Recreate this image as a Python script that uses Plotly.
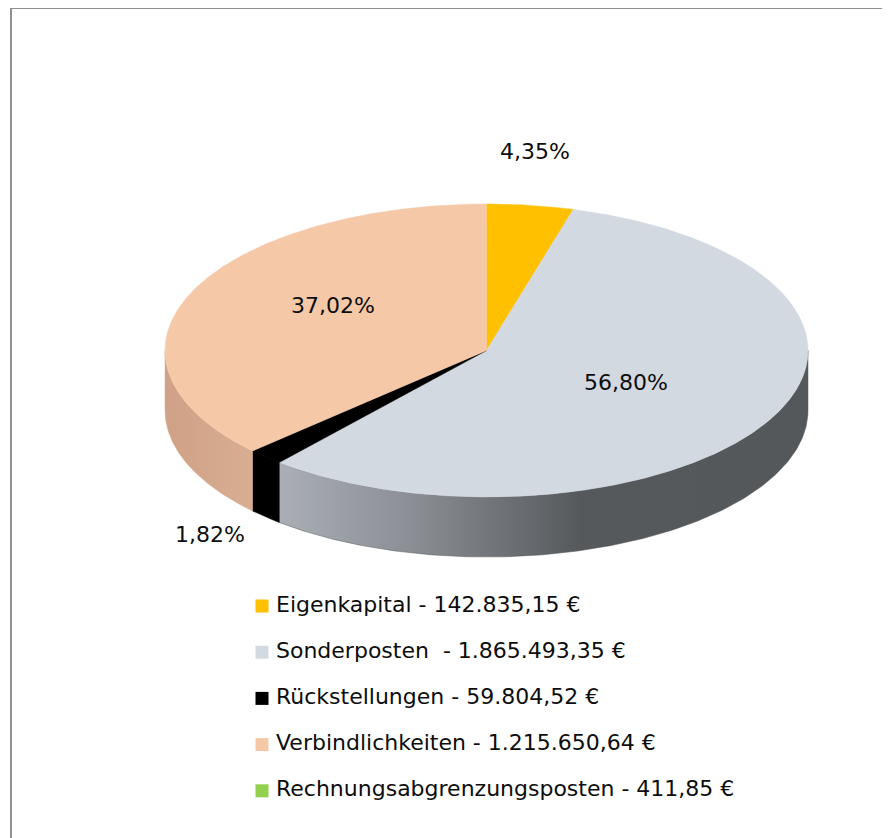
import numpy as np
import plotly.graph_objects as go

# ---- data ----
categories = ["Eigenkapital", "Sonderposten", "Rückstellungen",
              "Verbindlichkeiten", "Rechnungsabgrenzungsposten"]
amounts = [142835.15, 1865493.35, 59804.52, 1215650.64, 411.85]
amount_labels = ["142.835,15 €", "1.865.493,35 €", "59.804,52 €",
                 "1.215.650,64 €", "411,85 €"]
legend_sep = [" - ", "  - ", " - ", " - ", " - "]

# ---- styles ----
top_colors = ["#ffc000", "#d3d9e1", "#000000", "#f5c9a8", "#92d050"]
edge_widths = [0.5, 0.5, 0.5, 0.5, 0]
wall_scales = [
    [[0, "#d9a300"], [1, "#d9a300"]],
    [[0, "#aaaeb5"], [0.25, "#8b8f95"], [0.57, "#56595c"], [1, "#55585b"]],
    [[0, "#000000"], [1, "#000000"]],
    [[0, "#cfa186"], [1, "#d8ae92"]],
    [[0, "#7bb33f"], [1, "#7bb33f"]],
]
# label placement factors (relative to ellipse radii) per slice
label_fx = [1.10, 0.49, 1.25, 0.52, 1.0]
label_fy = [1.37, 0.46, 1.73, 0.78, 1.0]
show_label = [True, True, True, True, False]

FONT = "DejaVu Sans"
FS = 22
W, H = 890, 838
OFF = 8  # page body margin
cx, cy, rx, ry, depth = 486.5, 350.5, 321.5, 146.5, 60.0

total = sum(amounts)
fracs = [a / total for a in amounts]
starts = np.concatenate([[0], np.cumsum(fracs)[:-1]]) * 360.0
ends = np.cumsum(fracs) * 360.0


def pt(theta_deg, dz=0.0):
    t = np.radians(theta_deg)
    return cx + rx * np.sin(t), cy - ry * np.cos(t) + dz


fig = go.Figure()

# side walls (front half: 90..270 deg clockwise from top)
for i in range(len(amounts)):
    lo, hi = max(starts[i], 90.0), min(ends[i], 270.0)
    if hi <= lo:
        continue
    th = np.linspace(lo, hi, 200)
    xt, yt = pt(th)
    xb, yb = pt(th[::-1], depth)
    xs = np.concatenate([xt, xb, xt[:1]])
    ys = np.concatenate([yt, yb, yt[:1]])
    fig.add_trace(go.Scatter(
        x=xs, y=ys, mode="lines", line=dict(width=0.5, color=wall_scales[i][-1][1]),
        fill="toself",
        fillgradient=dict(type="horizontal", colorscale=wall_scales[i]),
        hoverinfo="skip", showlegend=False))

# top faces
for i in range(len(amounts)):
    n = max(int((ends[i] - starts[i]) * 3), 4)
    th = np.linspace(starts[i], ends[i], n)
    xa, ya = pt(th)
    xs = np.concatenate([[cx], xa, [cx]])
    ys = np.concatenate([[cy], ya, [cy]])
    fig.add_trace(go.Scatter(
        x=xs, y=ys, mode="lines",
        line=dict(width=edge_widths[i], color=top_colors[i]),
        fill="toself", fillcolor=top_colors[i],
        hoverinfo="text", text=f"{categories[i]}: {fracs[i]*100:.2f}%".replace(".", ","),
        showlegend=False))

# percentage labels
for i in range(len(amounts)):
    if not show_label[i]:
        continue
    mid = np.radians((starts[i] + ends[i]) / 2)
    lx = cx + rx * label_fx[i] * np.sin(mid)
    ly = cy - ry * label_fy[i] * np.cos(mid)
    fig.add_annotation(x=lx, y=ly, text=f"{fracs[i]*100:.2f}%".replace(".", ","),
                       showarrow=False, font=dict(family=FONT, size=FS, color="#0d0d0d"),
                       xanchor="center", yanchor="middle")

# legend (manual)
leg_x, leg_y0, leg_gap = 262, 606, 46.2
leg_y = [leg_y0 + k * leg_gap for k in range(len(categories))]
fig.add_trace(go.Scatter(
    x=[leg_x] * len(categories), y=leg_y, mode="markers",
    marker=dict(symbol="square", size=13, color=top_colors, line=dict(width=0)),
    hoverinfo="skip", showlegend=False))
fig.add_trace(go.Scatter(
    x=[leg_x + 14] * len(categories), y=leg_y, mode="text",
    text=[c + s + a for c, s, a in zip(categories, legend_sep, amount_labels)],
    textposition="middle right",
    textfont=dict(family=FONT, size=FS, color="#0d0d0d"),
    hoverinfo="skip", showlegend=False))

# outer frame
fig.add_shape(type="rect", x0=11, y0=8, x1=883, y1=870,
              line=dict(color="#8f8f8f", width=2), layer="below")

fig.update_layout(
    width=W, height=H,
    margin=dict(l=0, r=0, t=0, b=0),
    paper_bgcolor="white", plot_bgcolor="white",
    xaxis=dict(range=[OFF, W + OFF], visible=False, fixedrange=True),
    yaxis=dict(range=[H + OFF, OFF], visible=False, fixedrange=True),
    showlegend=False,
)

fig.write_html("out.html")
